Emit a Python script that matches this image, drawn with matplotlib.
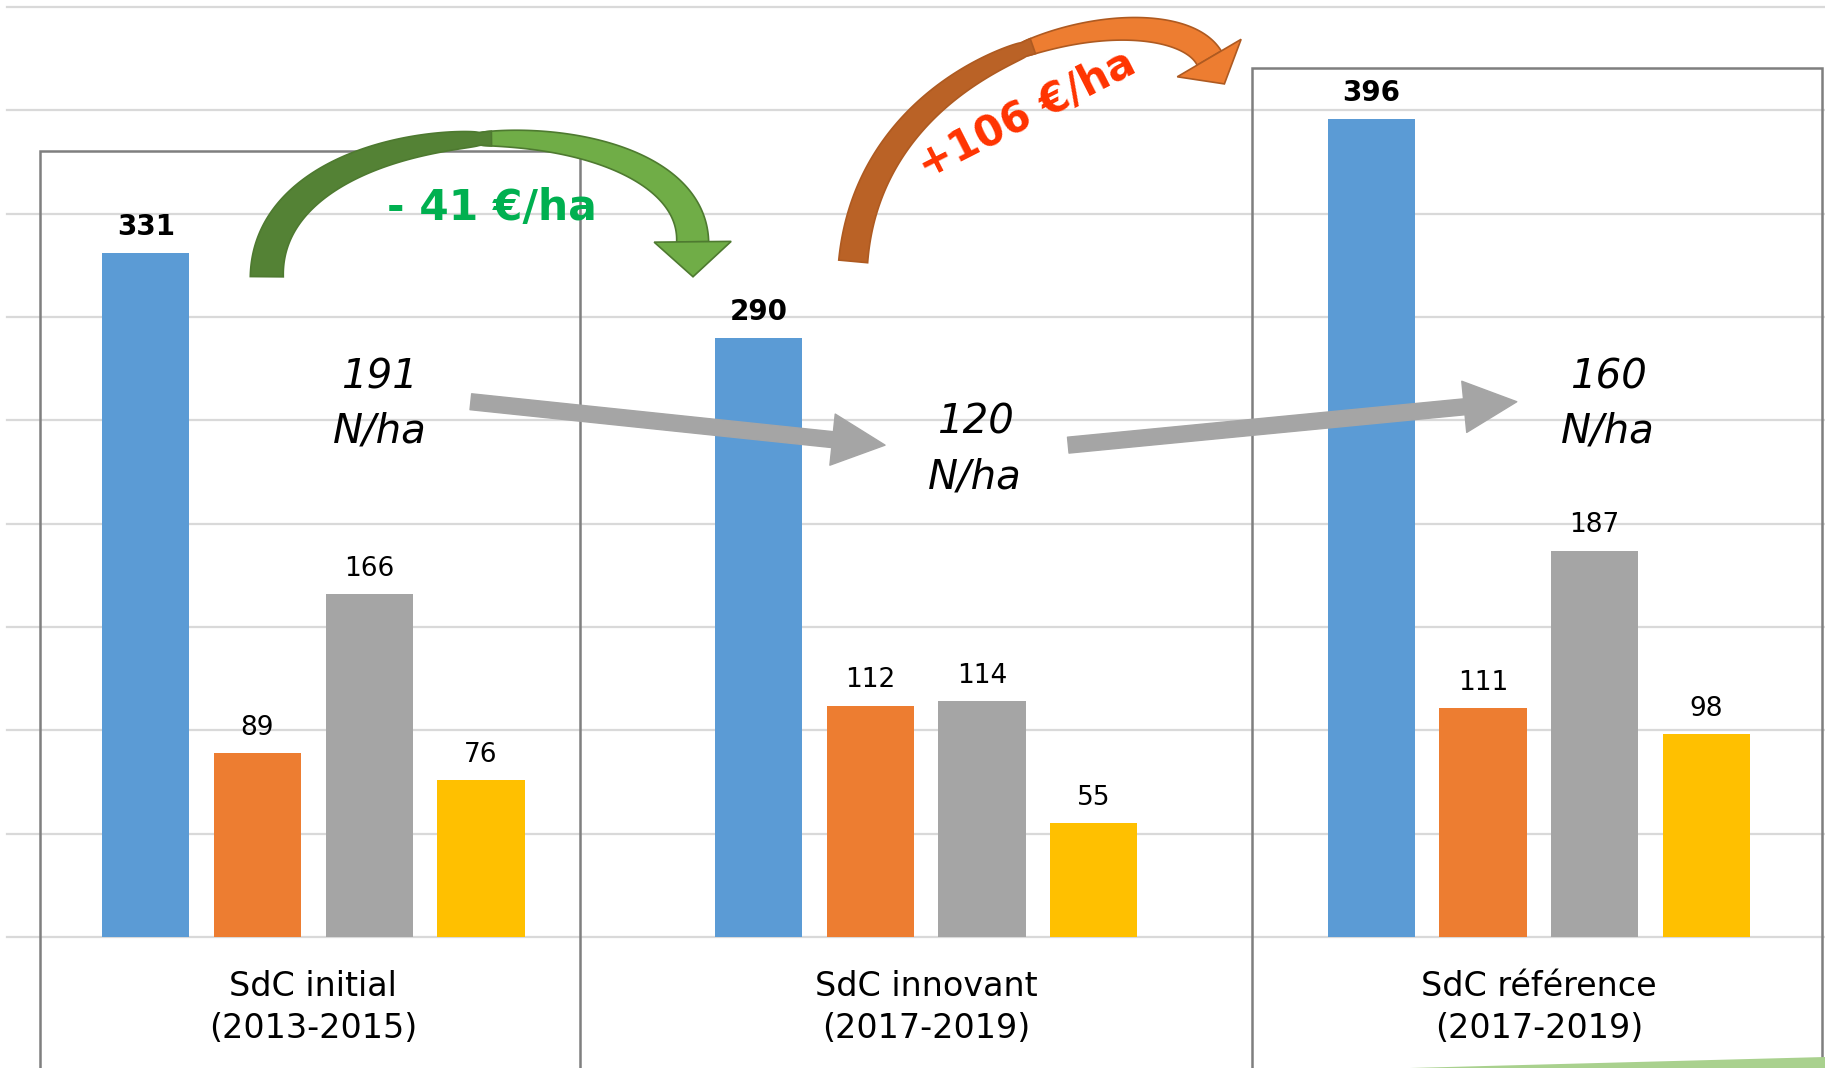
import numpy as np
import matplotlib.pyplot as plt
from matplotlib.patches import Polygon, Rectangle, FancyArrowPatch, ArrowStyle

# --- data ---
categories = ["SdC initial\n(2013-2015)", "SdC innovant\n(2017-2019)", "SdC référence\n(2017-2019)"]
blue_vals = [331, 290, 396]
orange_vals = [89, 112, 111]
gray_vals = [166, 114, 187]
yellow_vals = [76, 55, 98]
n_per_ha = [191, 120, 160]
delta_labels = ["- 41 €/ha", "+106 €/ha"]

colors = ["#5B9BD5", "#ED7D31", "#A5A5A5", "#FFC000"]

W, H = 1825, 1068
fig = plt.figure(figsize=(W / 100, H / 100), dpi=100)
ax = fig.add_axes([7 / W, 131 / H, (W - 7) / W, 930 / H])
ax.set_xlim(-0.5, 2.467)
ax.set_ylim(0, 450)
ax.set_xticks([])
ax.set_yticks([])
for s in ax.spines.values():
    s.set_visible(False)

# horizontal gridlines every 50
for y in range(0, 451, 50):
    ax.axhline(y, color="#D9D9D9", lw=1.6, zorder=0, clip_on=False)

x = np.arange(len(categories))
bar_w = 0.1425
step = 0.1824
series = [blue_vals, orange_vals, gray_vals, yellow_vals]
for i, (vals, c) in enumerate(zip(series, colors)):
    pos = x + (i - 1.5) * step
    ax.bar(pos, vals, bar_w, color=c, zorder=2)
    for p, v in zip(pos, vals):
        ax.annotate(str(v), (p, v), xytext=(0, 13), textcoords="offset points",
                    ha="center", va="baseline", fontsize=20 if i == 0 else 19,
                    fontweight="bold" if i == 0 else "normal", color="black")

# category labels under the baseline
for xi, lab in zip(x, categories):
    ax.text(xi, -0.076, lab, transform=ax.get_xaxis_transform(), ha="center",
            va="center", fontsize=24, linespacing=1.35)

# gray frames around the first and last group
frames = [(-0.446, 0.435, 380.4), (1.532, 2.462, 420.5)]
for x0, x1, top in frames:
    ax.add_patch(Rectangle((x0, -100), x1 - x0, top + 100, fill=False,
                           ec="#7F7F7F", lw=1.8, clip_on=False, zorder=1))

# N/ha labels and straight gray arrows
n_pos = [(0.108, 258), (1.080, 236), (2.113, 258)]
for (px, py), n in zip(n_pos, n_per_ha):
    ax.text(px, py, f"{n}\nN/ha", ha="center", va="center", fontsize=29,
            style="italic", linespacing=1.5, zorder=4)

gray_style = ArrowStyle.Simple(head_length=38, head_width=37, tail_width=11.5)
for a, b in [((0.257, 259), (0.933, 238)), ((1.232, 238), (1.964, 259))]:
    ax.add_patch(FancyArrowPatch(a, b, arrowstyle=gray_style, mutation_scale=1,
                                 color="#A5A5A5", shrinkA=0, shrinkB=0, zorder=3))


def curved_arrow(ax, ctrl, w0, wmid, w1, head_w, head_l, c_dark, c_light, c_edge):
    pts = ax.transData.transform(np.array(ctrl))
    t = np.linspace(0, 1, 300)[:, None]
    cl = ((1 - t) ** 3 * pts[0] + 3 * (1 - t) ** 2 * t * pts[1]
          + 3 * (1 - t) * t ** 2 * pts[2] + t ** 3 * pts[3])
    d = np.gradient(cl, axis=0)
    d /= np.linalg.norm(d, axis=1)[:, None]
    nrm = np.column_stack([d[:, 1], -d[:, 0]])
    tt = t[:, 0]
    w = np.where(tt < 0.5, wmid + (w0 - wmid) * np.abs(1 - 2 * tt) ** 0.5,
                 wmid + (w1 - wmid) * np.abs(2 * tt - 1) ** 0.6)
    outer = cl - nrm * w[:, None] / 2
    inner = cl + nrm * w[:, None] / 2
    inv = ax.transData.inverted()
    for sl, col in [(slice(150, 300), c_light), (slice(0, 156), c_dark)]:
        poly = np.vstack([outer[sl], inner[sl][::-1]])
        ax.add_patch(Polygon(inv.transform(poly), closed=True, fc=col, ec=c_edge,
                             lw=1.2, zorder=5, clip_on=False))
    end, de, ne = cl[-1], d[-1], nrm[-1]
    head = np.array([end - ne * head_w / 2, end + de * head_l, end + ne * head_w / 2])
    ax.add_patch(Polygon(inv.transform(head), closed=True, fc=c_light, ec=c_edge,
                         lw=1.2, zorder=5, clip_on=False))


# green arrow (initial -> innovant)
curved_arrow(ax, [(-0.076, 319.5), (-0.076, 405.6), (0.619, 405.6), (0.619, 336.4)],
             33, 12, 32, 77, 35, "#548235", "#70AD47", "#4E7A30")
ax.text(0.292, 352.7, delta_labels[0], ha="center", va="center", fontsize=30.5,
        fontweight="bold", color="#00B050", zorder=6)

# orange arrow (innovant -> reference)
curved_arrow(ax, [(0.881, 326.9), (0.913, 436.0), (1.398, 458.5), (1.462, 425.3)],
             29, 14, 28, 74, 30, "#BA6226", "#ED7D31", "#AE5A21")
ax.text(1.164, 397.8, delta_labels[1], ha="center", va="center", fontsize=30,
        fontweight="bold", color="#FF3300", rotation=27, zorder=6)

# light green swoosh in the bottom-right corner
fig.patches.append(Polygon([[1410 / W, 0], [1, 11 / H], [1, 0]], closed=True,
                           transform=fig.transFigure, fc="#A9D18E", ec="none"))

fig.savefig("out.png", dpi=100)
